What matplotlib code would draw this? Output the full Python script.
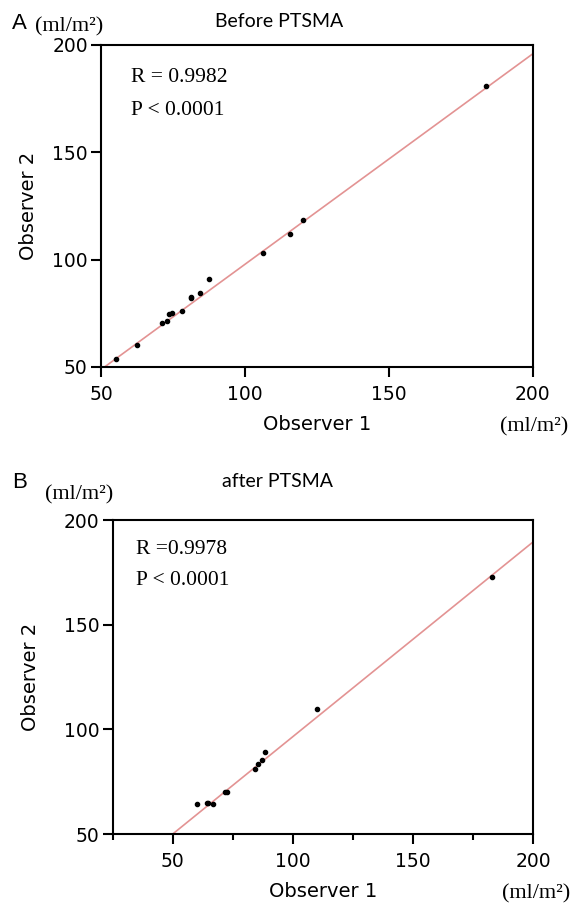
import numpy as np
import matplotlib
matplotlib.use('Agg')
import matplotlib.pyplot as plt
from matplotlib.ticker import MultipleLocator

# panel A - before PTSMA
obs1_before = [55.1, 62.5, 71.2, 73.1, 73.8, 74.6, 78.2, 81.3, 81.4, 84.5, 87.5, 106.3, 115.7, 120.2, 183.8]
obs2_before = [53.7, 60.4, 70.3, 71.2, 74.5, 75.1, 76.2, 82.4, 82.0, 84.4, 91.1, 102.9, 112.0, 118.6, 181.1]
fit_before = (0.98, -0.2)      # slope, intercept

# panel B - after PTSMA
obs1_after = [60.1, 64.1, 64.8, 66.6, 71.9, 72.4, 84.2, 85.6, 87.3, 88.6, 109.9, 182.8]
obs2_after = [64.3, 65.0, 65.0, 64.3, 70.2, 70.2, 81.0, 83.4, 85.2, 89.3, 109.5, 173.0]
fit_after = (0.93, 3.5)

W, H = 572, 909
fig = plt.figure(figsize=(W / 100, H / 100), dpi=100)

serif = 'Liberation Serif'
line_col = '#e39393'
unit = '(ml/m²)'


def fx(px):
    return px / W


def fy(py):
    return 1 - py / H


def panel(rect, xs, ys, fit, xmin, r_txt, r_pos, p_pos, minor, ylab_pad):
    ax = fig.add_axes(rect)
    xx = np.array([xmin, 200.0])
    ax.plot(xx, fit[0] * xx + fit[1], color=line_col, lw=1.2, zorder=2)
    ax.plot(xs, ys, 'o', color='black', ms=3, zorder=3)
    ax.set_xlim(xmin, 200)
    ax.set_ylim(50, 200)
    ax.xaxis.set_major_locator(MultipleLocator(50))
    ax.yaxis.set_major_locator(MultipleLocator(50))
    if minor:
        ax.xaxis.set_minor_locator(MultipleLocator(25))
    for s in ax.spines.values():
        s.set_linewidth(1.5)
    ax.tick_params(which='major', direction='out', length=7.5, width=1.5, labelsize=13.5)
    ax.tick_params(axis='x', which='major', pad=5.5)
    ax.tick_params(axis='y', which='major', pad=2)
    ax.tick_params(which='minor', direction='out', length=4, width=1.5)
    ax.set_xlabel('Observer 1', fontsize=14, labelpad=8)
    ax.set_ylabel('Observer 2', fontsize=14, labelpad=ylab_pad)
    ax.text(r_pos[0], r_pos[1], r_txt, transform=ax.transAxes, family=serif, fontsize=15.5)
    ax.text(p_pos[0], p_pos[1], 'P < 0.0001', transform=ax.transAxes, family=serif, fontsize=15.5)
    return ax


axA = panel([101 / W, 1 - 367 / H, 431.5 / W, 322 / H], obs1_before, obs2_before, fit_before, 50,
            'R = 0.9982', (0.07, 0.885), (0.07, 0.783), False, 10)
axB = panel([112.7 / W, 1 - 834 / H, 420.3 / W, 314 / H], obs1_after, obs2_after, fit_after, 25,
            'R =0.9978', (0.055, 0.892), (0.055, 0.793), True, 17)

# panel letters, titles and units
fig.text(fx(12), fy(29), 'A', fontsize=16, family='Liberation Sans')
fig.text(fx(35), fy(31), unit, fontsize=16, family=serif)
fig.text(fx(279), fy(27), 'Before PTSMA', fontsize=14, family='Lato', ha='center')
fig.text(fx(534), fy(431), unit, fontsize=16, family=serif, ha='center')

fig.text(fx(12), fy(488), 'B', fontsize=16, family='Liberation Sans')
fig.text(fx(45), fy(499), unit, fontsize=16, family=serif)
fig.text(fx(277), fy(487), 'after PTSMA', fontsize=14, family='Lato', ha='center')
fig.text(fx(536), fy(898), unit, fontsize=16, family=serif, ha='center')

fig.savefig('out.png', dpi=100)
